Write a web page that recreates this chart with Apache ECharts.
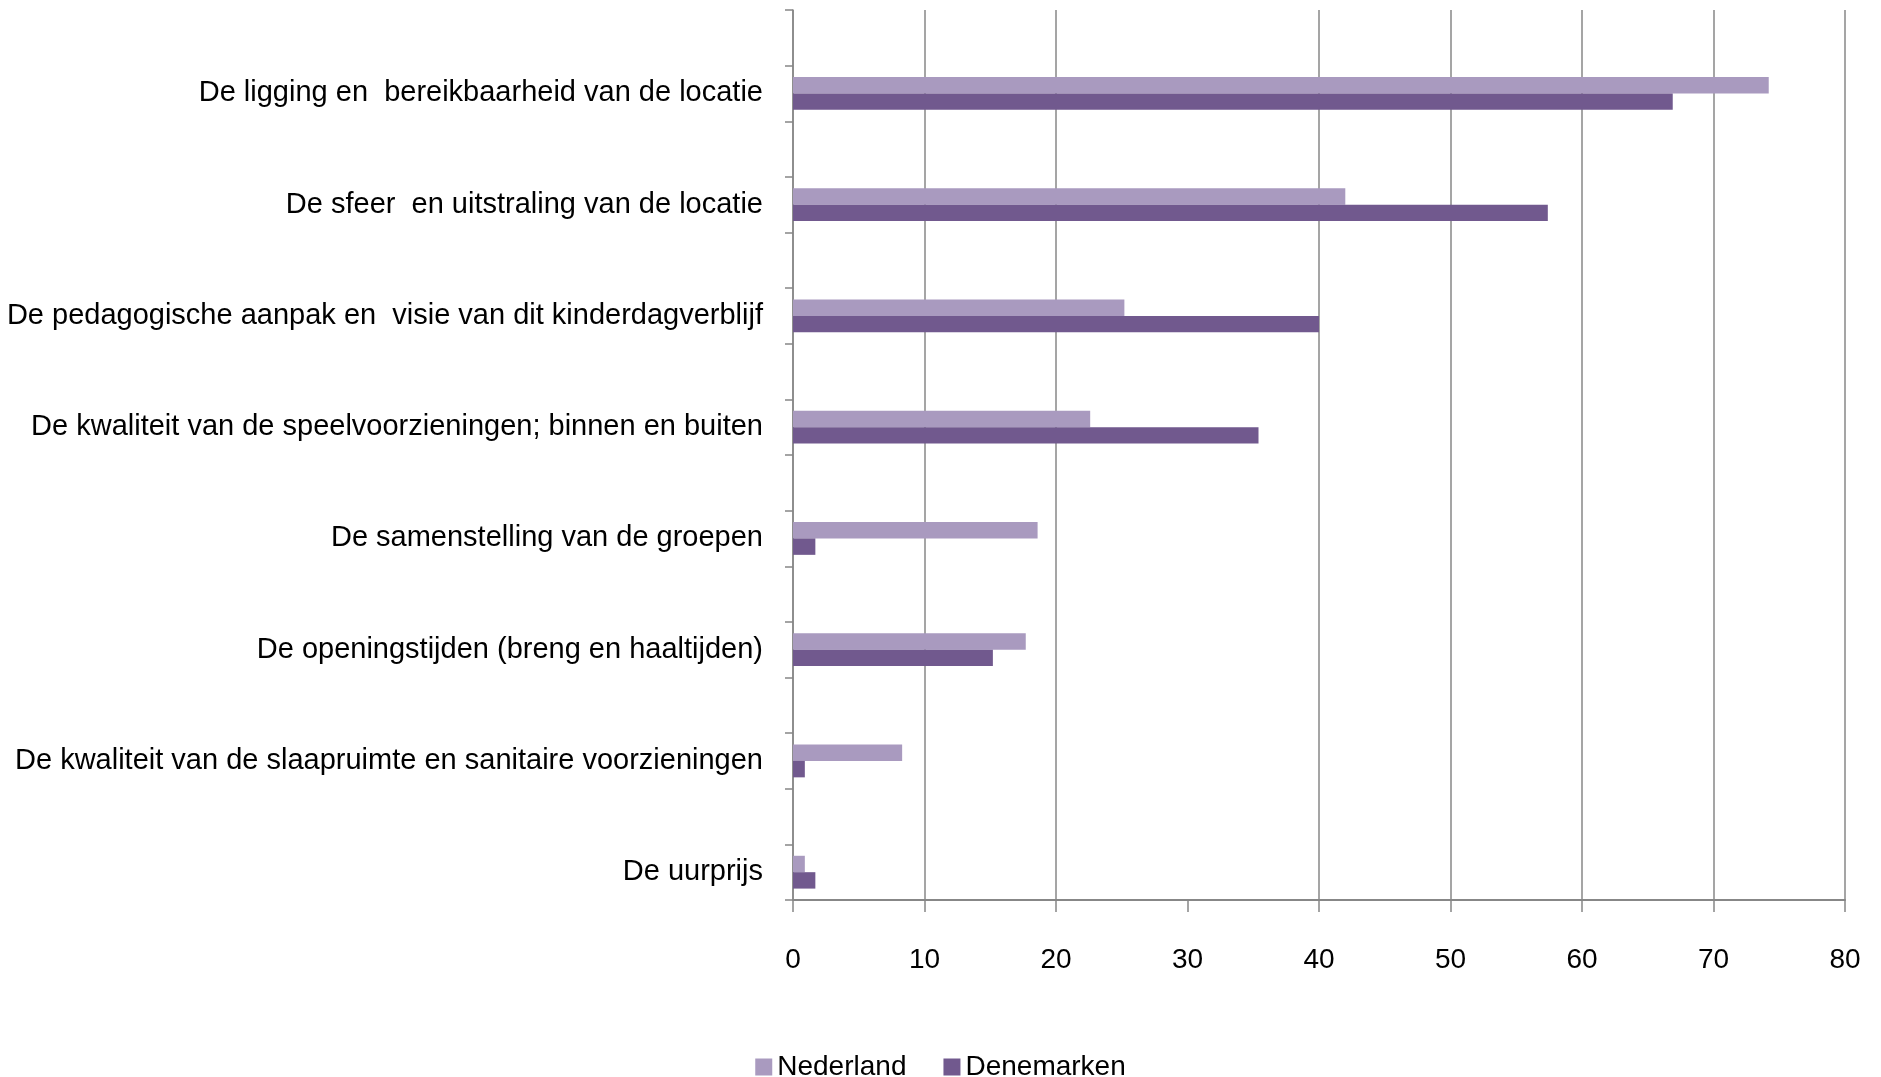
<!DOCTYPE html>
<html>
<head>
<meta charset="utf-8">
<script src="https://cdn.jsdelivr.net/npm/echarts@6/dist/echarts.min.js"></script>
<style>
html,body{margin:0;padding:0;background:#fff;}
#chart{width:1881px;height:1077px;}
</style>
</head>
<body>
<div id="chart"></div>
<script>
const categories = [
  'De ligging en  bereikbaarheid van de locatie',
  'De sfeer  en uitstraling van de locatie',
  'De pedagogische aanpak en  visie van dit kinderdagverblijf',
  'De kwaliteit van de speelvoorzieningen; binnen en buiten',
  'De samenstelling van de groepen',
  'De openingstijden (breng en haaltijden)',
  'De kwaliteit van de slaapruimte en sanitaire voorzieningen',
  'De uurprijs'
];
const nederland = [74.2, 42.0, 25.2, 22.6, 18.6, 17.7, 8.3, 0.9];
const denemarken = [66.9, 57.4, 40.0, 35.4, 1.7, 15.2, 0.9, 1.7];
const xTicks = [0, 10, 20, 30, 40, 50, 60, 70, 80];
const seriesNames = ['Nederland', 'Denemarken'];

// Axis uses an empty spacer band before each category (as in the original chart)
const axisCats = [], nlData = [], dkData = [];
categories.forEach((c, i) => {
  axisCats.push(''); nlData.push('-'); dkData.push('-');
  axisCats.push(c); nlData.push(nederland[i]); dkData.push(denemarken[i]);
});

const FONT = '"Liberation Sans", Arial, sans-serif';
const GRAY = '#878787';

const chart = echarts.init(document.getElementById('chart'), null, {renderer: 'canvas'});
chart.setOption({
  animation: false,
  backgroundColor: '#ffffff',
  grid: {left: 793, right: 36, top: 10, bottom: 177, containLabel: false, outerBoundsMode: 'none'},
  legend: {
    data: seriesNames,
    top: 1048,
    left: 'center',
    icon: 'rect',
    itemWidth: 17,
    itemHeight: 17,
    itemGap: 37,
    textStyle: {fontFamily: FONT, fontSize: 28, color: '#000'}
  },
  xAxis: {
    type: 'value',
    min: xTicks[0],
    max: xTicks[xTicks.length - 1],
    interval: 10,
    axisLine: {show: true, lineStyle: {color: GRAY, width: 2}},
    axisTick: {show: true, length: 12, lineStyle: {color: GRAY, width: 1.5}},
    axisLabel: {margin: 46, fontFamily: FONT, fontSize: 28, color: '#000'},
    splitLine: {show: true, lineStyle: {color: [GRAY, GRAY, GRAY, '#ffffff', GRAY, GRAY, GRAY, GRAY, GRAY], width: 1.5}}
  },
  yAxis: {
    type: 'category',
    inverse: true,
    data: axisCats,
    axisLine: {show: true, lineStyle: {color: GRAY, width: 1.5}},
    axisTick: {show: true, length: 8, lineStyle: {color: GRAY, width: 1.5}},
    axisLabel: {margin: 30, fontFamily: FONT, fontSize: 29, color: '#000', interval: 0},
    splitLine: {show: false}
  },
  series: [
    {name: seriesNames[0], type: 'bar', data: nlData, barGap: '0%', barCategoryGap: '41%',
     itemStyle: {color: '#A99ABF'}},
    {name: seriesNames[1], type: 'bar', data: dkData, barGap: '0%', barCategoryGap: '41%',
     itemStyle: {color: '#71598E'}}
  ]
});
</script>
</body>
</html>
